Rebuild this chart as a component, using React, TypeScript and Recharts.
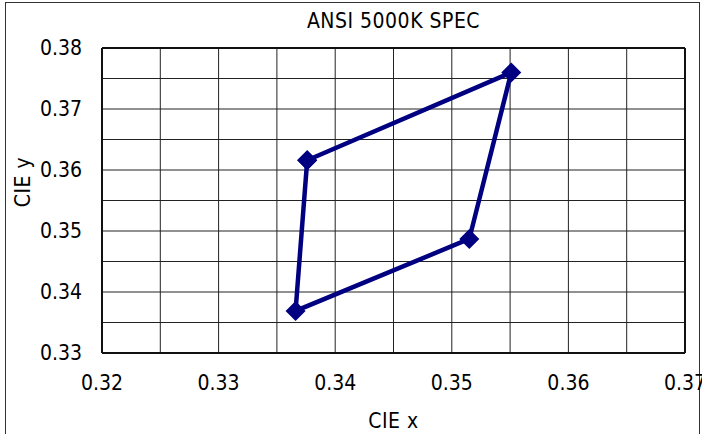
import { ScatterChart, Scatter, XAxis, YAxis, CartesianGrid, ReferenceLine, Label } from 'recharts';

// ANSI 5000K quadrangle corners (closed back to the first one)
const cieX = [0.3376, 0.3551, 0.3515, 0.3366, 0.3376];
const cieY = [0.3616, 0.376, 0.3487, 0.3369, 0.3616];

const xTicks = [0.32, 0.325, 0.33, 0.335, 0.34, 0.345, 0.35, 0.355, 0.36, 0.365, 0.37];
const yTicks = [0.33, 0.335, 0.34, 0.345, 0.35, 0.355, 0.36, 0.365, 0.37, 0.375, 0.38];

const data = cieX.map((x, i) => ({ x, y: cieY[i] }));

const FONT = '"DejaVu Sans Condensed", "DejaVu Sans", sans-serif';
const NAVY = '#000080';

// only every second tick gets a label, the rest are just grid lines
const fmt = (v: number) => (Math.round(v * 1000) % 10 === 0 ? v.toFixed(2) : '');

const Diamond = (props: any) => {
  const { cx, cy } = props;
  const r = 10;
  return <polygon points={`${cx},${cy - r} ${cx + r},${cy} ${cx},${cy + r} ${cx - r},${cy}`} fill={NAVY} />;
};

const App = () => {
  return (
    <div style={{ position: 'absolute', left: 0, top: 0, width: 702, height: 434, background: '#fff', overflow: 'hidden', fontFamily: FONT }}>
      <div style={{ position: 'absolute', left: 5, top: 2, width: 693, height: 450, border: '1.5px solid #333' }} />
      <div style={{ position: 'absolute', left: 102, width: 583, top: 9, textAlign: 'center', fontSize: 21, letterSpacing: 0.5 }}>
        ANSI 5000K SPEC
      </div>
      <ScatterChart width={702} height={434} margin={{ top: 48, right: 17, left: 0, bottom: 0 }} style={{ position: 'absolute', left: 0, top: 0 }}>
        <CartesianGrid stroke="#222" strokeWidth={1} />
        <XAxis
          type="number"
          dataKey="x"
          domain={[0.32, 0.37]}
          ticks={xTicks}
          tickFormatter={fmt}
          interval={0}
          height={81}
          tickLine={false}
          tickSize={0}
          tickMargin={22}
          axisLine={{ stroke: '#111', strokeWidth: 2 }}
          tick={{ fill: '#000', fontSize: 21, fontFamily: FONT }}
        >
          <Label value="CIE x" position="insideBottom" offset={6} style={{ fill: '#000', fontSize: 21, fontFamily: FONT, letterSpacing: 0.5 }} />
        </XAxis>
        <YAxis
          type="number"
          dataKey="y"
          domain={[0.33, 0.38]}
          ticks={yTicks}
          tickFormatter={fmt}
          interval={0}
          width={102}
          tickLine={false}
          tickSize={0}
          tickMargin={20}
          axisLine={{ stroke: '#111', strokeWidth: 2 }}
          tick={{ fill: '#000', fontSize: 21, fontFamily: FONT }}
        >
          <Label
            content={() => (
              <text x={30} y={182} transform="rotate(-90 30 182)" textAnchor="middle" fontSize={21} fontFamily={FONT} letterSpacing={0.5} fill="#000">
                CIE y
              </text>
            )}
          />
        </YAxis>
        <ReferenceLine y={0.38} stroke="#111" strokeWidth={2} />
        <ReferenceLine x={0.37} stroke="#111" strokeWidth={2} />
        <Scatter
          data={data}
          line={{ stroke: NAVY, strokeWidth: 4.5 }}
          lineType="joint"
          shape={<Diamond />}
          fill={NAVY}
          isAnimationActive={false}
        />
      </ScatterChart>
    </div>
  );
};

export default App;
